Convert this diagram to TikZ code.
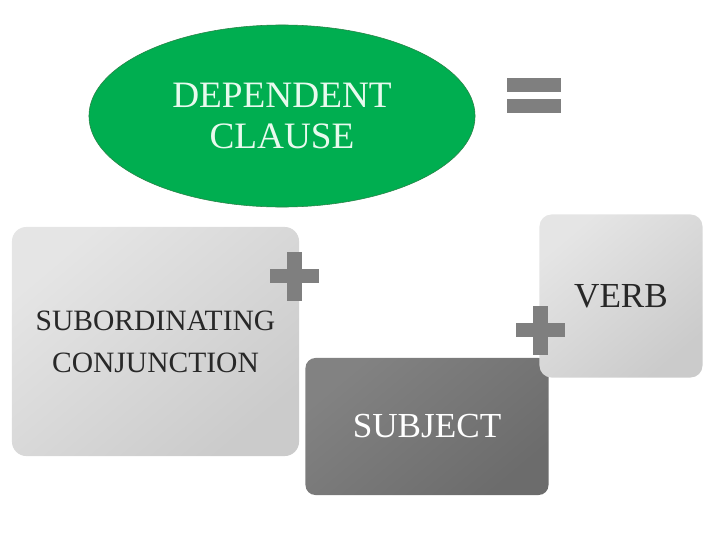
\documentclass[tikz,border=0pt]{standalone}
\usepackage{fontspec}
\setmainfont{Liberation Serif}
\usepackage{tikz}
\usetikzlibrary{shapes.geometric}
\definecolor{ClauseGreen}{RGB}{0,174,80}
\definecolor{ClauseEdge}{RGB}{40,130,70}
\definecolor{ClauseText}{RGB}{232,250,238}
\definecolor{SignGray}{RGB}{127,127,127}
\definecolor{CardLight}{RGB}{229,229,229}
\definecolor{CardShade}{RGB}{203,203,203}
\definecolor{SubjLight}{RGB}{130,130,130}
\definecolor{SubjDark}{RGB}{108,108,108}
\definecolor{CardText}{RGB}{40,40,40}

\begin{document}
\begin{tikzpicture}[x=0.025cm, y=-0.025cm,
          card/.style={rectangle, rounded corners=0.36cm, inner sep=0pt,
                       align=center, shade, top color=CardLight,
                       bottom color=CardShade, shading angle=40,
                       text=CardText}
        ]
        \useasboundingbox (0,0) rectangle (720,540);

        % Dependent clause
        \node[ellipse, draw=ClauseEdge, fill=ClauseGreen, inner sep=0pt,
              minimum width=9.65cm, minimum height=4.55cm, align=center,
              text=ClauseText, font=\fontsize{26.5}{28.5}\selectfont]
              (clause) at (282,116) {DEPENDENT\\CLAUSE};

        % Equals sign
        \fill[SignGray] (507,78) rectangle (561,92);
        \fill[SignGray] (507,99) rectangle (561,113);

        % Subordinating conjunction
        \node[card, minimum width=7.175cm, minimum height=5.725cm,
              font=\fontsize{21}{30}\selectfont]
              (conj) at (155.5,341.5) {SUBORDINATING\\CONJUNCTION};

        % Subject
        \node[card, top color=SubjLight, bottom color=SubjDark, shading angle=40,
              text=white, rounded corners=0.25cm,
              minimum width=6.075cm, minimum height=3.425cm,
              font=\fontsize{25}{28}\selectfont]
              (subj) at (427,426.5) {SUBJECT};

        % Verb
        \node[card, rounded corners=0.3cm, minimum width=4.075cm,
              minimum height=4.075cm, font=\fontsize{25}{28}\selectfont]
              (verb) at (621,296) {VERB};

        % Plus signs
        \foreach \cx/\cy in {294/276, 540/330}{
          \fill[SignGray] ({\cx-7.5},{\cy-24.5}) rectangle ({\cx+7.5},{\cy+24.5});
          \fill[SignGray] ({\cx-24.5},{\cy-7}) rectangle ({\cx+24.5},{\cy+7});
        }
      \end{tikzpicture}
\end{document}
